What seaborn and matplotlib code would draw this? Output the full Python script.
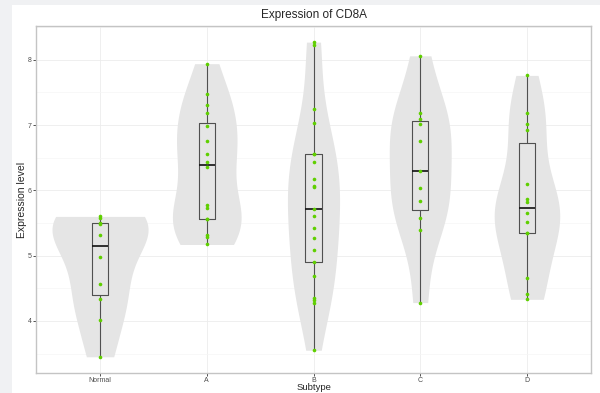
import numpy as np
import pandas as pd
import matplotlib
matplotlib.use("Agg")
import matplotlib.pyplot as plt
from matplotlib.patches import Rectangle
import seaborn as sns

# Expression of CD8A by subtype
subtypes = ["Normal", "A", "B", "C", "D"]
expr_normal = [5.60, 5.58, 5.50, 5.48, 5.31, 4.98, 4.57, 4.33, 4.01, 3.45]
expr_a = [7.94, 7.48, 7.31, 7.18, 6.98, 6.75, 6.56, 6.44, 6.35, 5.77, 5.73,
          5.56, 5.56, 5.32, 5.29, 5.17]
expr_b = [8.27, 8.22, 7.25, 7.03, 6.56, 6.55, 6.44, 6.17, 6.06, 6.05, 5.71,
          5.60, 5.43, 5.27, 5.08, 4.90, 4.69, 4.35, 4.32, 4.28, 3.55]
expr_c = [8.06, 7.18, 7.10, 7.01, 6.76, 6.30, 6.04, 5.83, 5.57, 5.39, 4.28]
expr_d = [7.76, 7.18, 7.02, 6.93, 6.09, 5.87, 5.82, 5.65, 5.51, 5.35, 5.35,
          4.66, 4.41, 4.33]

groups = [expr_normal, expr_a, expr_b, expr_c, expr_d]
df = pd.DataFrame({
    "Subtype": np.repeat(subtypes, [len(g) for g in groups]),
    "Expression": np.concatenate(groups),
})

sns.set_style("white")
plt.rcParams["font.family"] = ["Liberation Sans", "DejaVu Sans"]


def nrd0(kde):
    """Silverman's rule of thumb (R's bw.nrd0) as a factor of the sample sd."""
    x = np.asarray(kde.dataset).ravel()
    sd = x.std(ddof=1)
    q75, q25 = np.percentile(x, [75, 25])
    h = 0.9 * min(sd, (q75 - q25) / 1.34) * len(x) ** -0.2
    return h / sd


fig = plt.figure(figsize=(6.0, 3.93), dpi=100)
fig.patch.set_facecolor("#f0f1f3")
fig.add_artist(Rectangle((12 / 600, 0), 1 - 12 / 600, 1 - 5 / 393,
                         transform=fig.transFigure, facecolor="white",
                         edgecolor="none", zorder=0))
ax = fig.add_axes([36 / 600, 1 - 372.5 / 393, 555 / 600, (372.5 - 26.4) / 393])
ax.set_facecolor("white")

sns.violinplot(data=df, x="Subtype", y="Expression", order=subtypes,
               color="#e5e5e5", saturation=1, linewidth=0, inner=None,
               cut=0, density_norm="area", common_norm=True, width=0.9,
               bw_method=nrd0, ax=ax, zorder=1)

sns.boxplot(data=df, x="Subtype", y="Expression", order=subtypes,
            width=0.15, fill=False, color="#505050", linewidth=0.8,
            showfliers=False, showcaps=False,
            medianprops=dict(color="#111111", linewidth=1.2),
            ax=ax, zorder=2)

sns.stripplot(data=df, x="Subtype", y="Expression", order=subtypes,
              jitter=False, color="#5fcf00", size=2.6, linewidth=0,
              ax=ax, zorder=3)

# Axis ranges with a 5% pad on the values and 0.6 around the categories
vals = df["Expression"]
pad = 0.05 * (vals.max() - vals.min())
ax.set_ylim(vals.min() - pad, vals.max() + pad)
ax.set_xlim(-0.6, len(subtypes) - 0.4)

ax.set_yticks([4, 5, 6, 7, 8])
ax.set_yticklabels(["4", "5", "6", "7", "8"])
ax.set_yticks(np.arange(3.5, 9.0, 1.0), minor=True)
ax.grid(True, which="major", color="#ececec", linewidth=0.6)
ax.grid(True, which="minor", axis="y", color="#f5f5f5", linewidth=0.5)
ax.set_axisbelow(True)

ax.tick_params(axis="both", which="major", length=2.5, width=0.6,
               color="#333333", labelsize=5, labelcolor="#4d4d4d", pad=0.8)
ax.tick_params(axis="both", which="minor", length=0)
ax.tick_params(left=True, bottom=True)

for side in ax.spines.values():
    side.set_visible(True)
    side.set_color("#c4c4c4")
    side.set_linewidth(1.0)

ax.set_xlabel("Subtype", fontsize=6.8)
ax.xaxis.set_label_coords(0.5, -0.030)
ax.set_ylabel("Expression level", fontsize=7.5, labelpad=0.5)
ax.set_title("Expression of CD8A", fontsize=8.5, pad=6)

fig.savefig("out.png", dpi=100, facecolor=fig.get_facecolor())
